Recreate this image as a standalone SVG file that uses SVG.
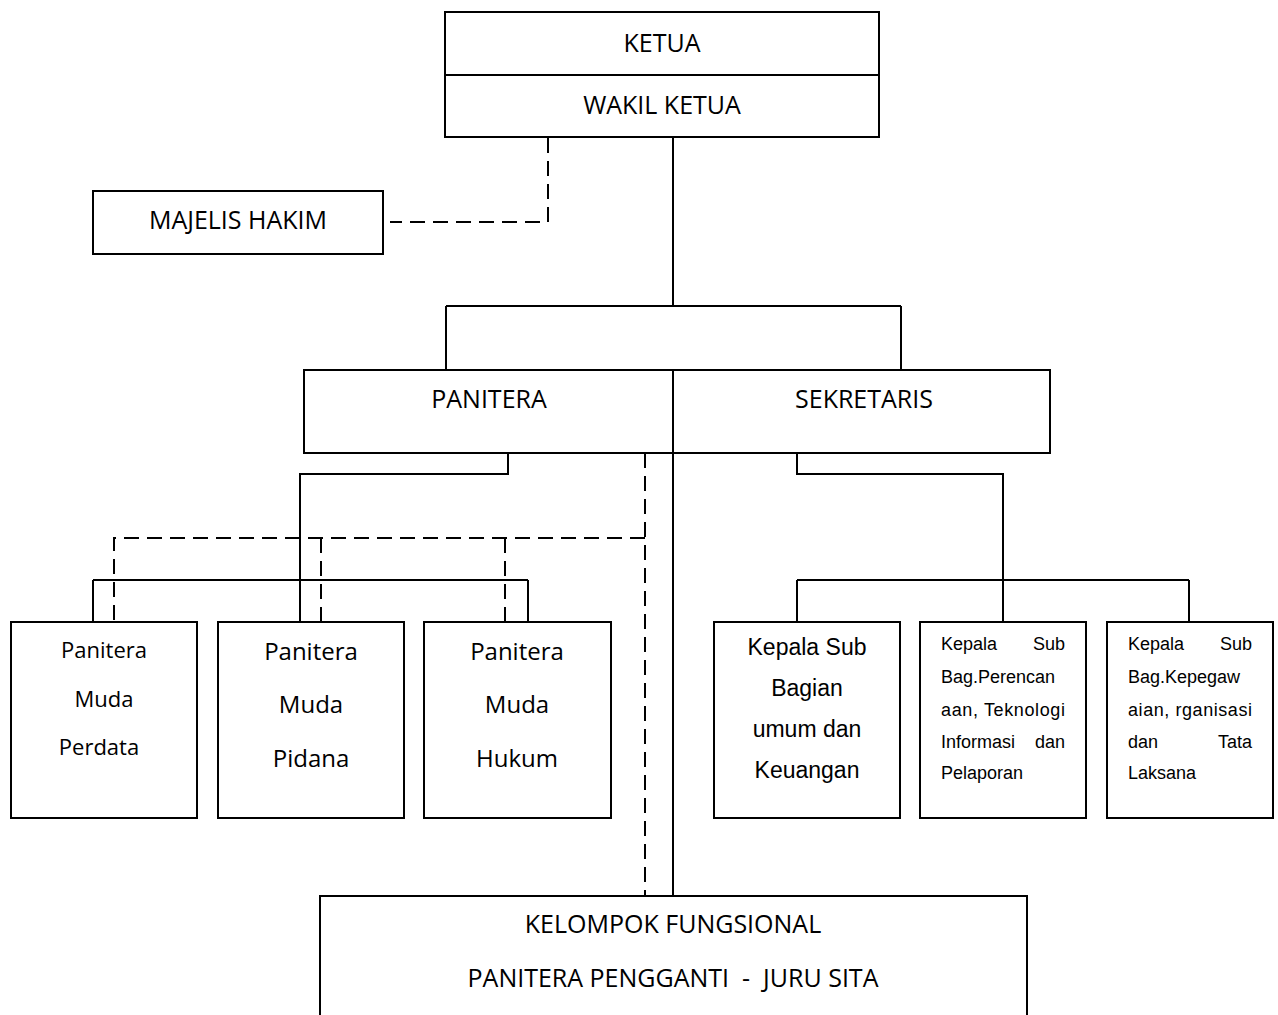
<svg xmlns="http://www.w3.org/2000/svg" width="1278" height="1015" viewBox="0 0 1278 1015">
<style>
.box{fill:#fff;stroke:#000;stroke-width:2}
.ln{fill:none;stroke:#000;stroke-width:2}
.ds{fill:none;stroke:#000;stroke-width:2;stroke-dasharray:15 8}
.t{font-family:"Open Sans","Noto Sans",sans-serif;font-size:25px;fill:#000;text-anchor:middle}
.m{font-family:"Open Sans","Noto Sans",sans-serif;font-size:24px;fill:#000;text-anchor:middle}
.a{font-family:"Liberation Sans",Arial,sans-serif;font-size:23px;fill:#000;text-anchor:middle}
.s{font-family:"Liberation Sans",Arial,sans-serif;font-size:18px;fill:#000}
.r{text-anchor:end}
</style>
<g id="connectors">
<path class="ln" d="M673 138V306M446 306H901M446 306V370M901 306V370"/>
<path class="ds" d="M548 138V222H390"/>
<path class="ln" d="M508 453V474H300V622M93 580H528M93 580V622M528 580V622"/>
<path class="ds" d="M645 453V896M645 538H114V622M321 538V622M505 538V622"/>
<path class="ln" d="M673 453V896"/>
<path class="ln" d="M797 453V474H1003V622M797 580H1189M797 580V622M1189 580V622"/>
</g>
<g id="ketua">
<rect class="box" x="445" y="12" width="434" height="125"/>
<line class="ln" x1="445" y1="75" x2="879" y2="75"/>
<text class="t" x="662" y="52">KETUA</text>
<text class="t" x="662" y="114">WAKIL KETUA</text>
</g>
<g id="majelis">
<rect class="box" x="93" y="191" width="290" height="63"/>
<text class="t" x="238" y="229">MAJELIS HAKIM</text>
</g>
<g id="panitera-sekretaris">
<rect class="box" x="304" y="370" width="746" height="83"/>
<line class="ln" x1="673" y1="370" x2="673" y2="453"/>
<text class="t" x="489" y="408">PANITERA</text>
<text class="t" x="864" y="408">SEKRETARIS</text>
</g>
<g id="pm-perdata">
<rect class="box" x="11" y="622" width="186" height="196"/>
<text class="m" x="104" y="658" style="font-size:22px">Panitera</text>
<text class="m" x="104" y="707" style="font-size:22px">Muda</text>
<text class="m" x="99" y="755" style="font-size:22px">Perdata</text>
</g>
<g id="pm-pidana">
<rect class="box" x="218" y="622" width="186" height="196"/>
<text class="m" x="311" y="660">Panitera</text>
<text class="m" x="311" y="713">Muda</text>
<text class="m" x="311" y="767">Pidana</text>
</g>
<g id="pm-hukum">
<rect class="box" x="424" y="622" width="187" height="196"/>
<text class="m" x="517" y="660">Panitera</text>
<text class="m" x="517" y="713">Muda</text>
<text class="m" x="517" y="767">Hukum</text>
</g>
<g id="ksb-umum">
<rect class="box" x="714" y="622" width="186" height="196"/>
<text class="a" x="807" y="655">Kepala Sub</text>
<text class="a" x="807" y="696">Bagian</text>
<text class="a" x="807" y="737">umum dan</text>
<text class="a" x="807" y="778">Keuangan</text>
</g>
<g id="ksb-perencanaan">
<rect class="box" x="920" y="622" width="166" height="196"/>
<text class="s" x="941" y="650">Kepala</text>
<text class="s r" x="1065" y="650">Sub</text>
<text class="s" x="941" y="683">Bag.Perencan</text>
<text class="s" x="941" y="716" textLength="124" lengthAdjust="spacing">aan, Teknologi</text>
<text class="s" x="941" y="748">Informasi</text>
<text class="s r" x="1065" y="748">dan</text>
<text class="s" x="941" y="779">Pelaporan</text>
</g>
<g id="ksb-kepegawaian">
<rect class="box" x="1107" y="622" width="166" height="196"/>
<text class="s" x="1128" y="650">Kepala</text>
<text class="s r" x="1252" y="650">Sub</text>
<text class="s" x="1128" y="683">Bag.Kepegaw</text>
<text class="s" x="1128" y="716" textLength="124" lengthAdjust="spacing">aian, rganisasi</text>
<text class="s" x="1128" y="748">dan</text>
<text class="s r" x="1252" y="748">Tata</text>
<text class="s" x="1128" y="779">Laksana</text>
</g>
<g id="kelompok">
<rect class="box" x="320" y="896" width="707" height="130"/>
<text class="t" x="673" y="933">KELOMPOK FUNGSIONAL</text>
<text class="t" x="673" y="987" xml:space="preserve">PANITERA PENGGANTI  -  JURU SITA</text>
</g>
</svg>
